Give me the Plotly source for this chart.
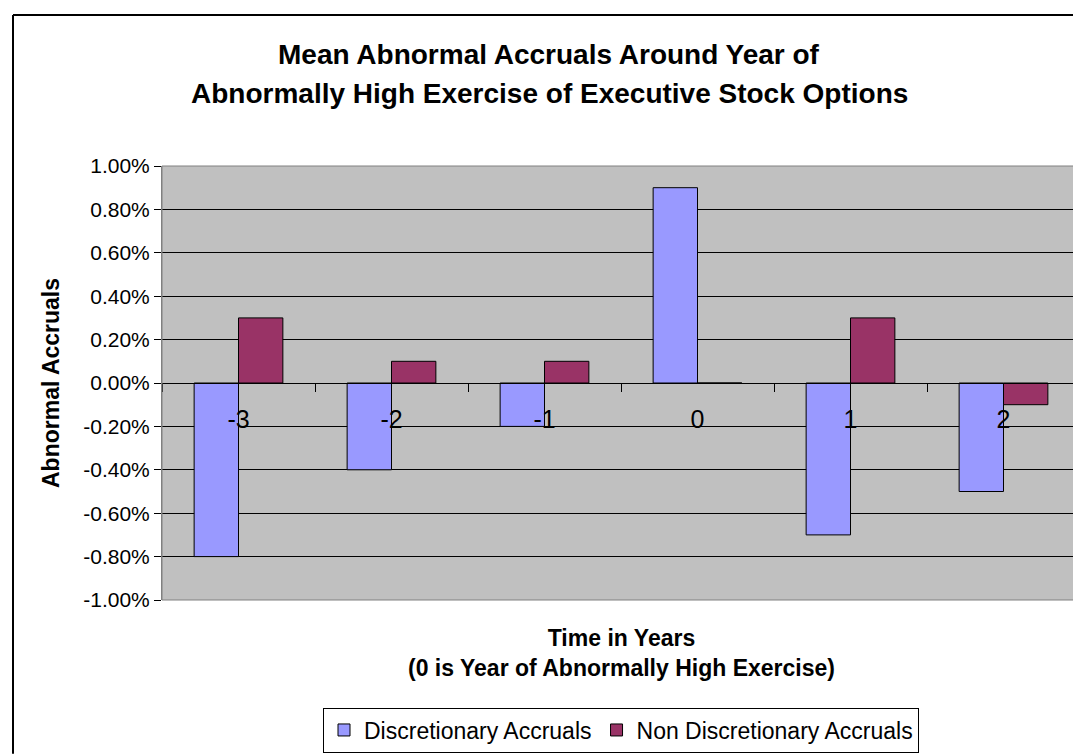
import plotly.graph_objects as go

years = ["-3", "-2", "-1", "0", "1", "2"]
discretionary = [-0.80, -0.40, -0.20, 0.90, -0.70, -0.50]
non_discretionary = [0.30, 0.10, 0.10, 0.00, 0.30, -0.10]
y_tick_vals = [-1.0, -0.8, -0.6, -0.4, -0.2, 0.0, 0.2, 0.4, 0.6, 0.8, 1.0]
y_tick_text = ["-1.00%", "-0.80%", "-0.60%", "-0.40%", "-0.20%", "0.00%",
               "0.20%", "0.40%", "0.60%", "0.80%", "1.00%"]

W, H = 1081, 754
L, R, T, B = 154, 9, 158, 156
PW, PH = W - L - R, H - T - B
FONT = "Liberation Sans, Arial, sans-serif"


def px(x):
    return (x - L) / PW


def py(y):
    return (H - B - y) / PH


fig = go.Figure()
fig.add_trace(go.Bar(x=years, y=discretionary, name="Discretionary Accruals",
                     marker=dict(color="#9999FF", line=dict(color="black", width=1))))
fig.add_trace(go.Bar(x=years, y=non_discretionary, name="Non Discretionary Accruals",
                     marker=dict(color="#993366", line=dict(color="black", width=1))))

fig.update_layout(
    width=W, height=H,
    margin=dict(l=L, r=R, t=T, b=B, pad=0),
    paper_bgcolor="white", plot_bgcolor="#C0C0C0",
    font=dict(family=FONT, color="black"),
    barmode="group", bargap=0.42, bargroupgap=0,
    showlegend=True,
    legend=dict(orientation="h", x=px(613), xanchor="center", y=py(707), yanchor="top",
                bordercolor="black", borderwidth=1, bgcolor="white",
                font=dict(size=23, family=FONT), itemwidth=30, tracegroupgap=0),
    xaxis=dict(type="category", anchor="free", position=0.5, showline=True,
               linecolor="black", linewidth=1, ticks="outside", ticklen=8,
               tickcolor="black", tickson="boundaries", showgrid=False,
               tickfont=dict(size=25, family=FONT), ticklabelstandoff=14,
               zeroline=False),
    yaxis=dict(range=[-1, 1], tickvals=y_tick_vals, ticktext=y_tick_text,
               showgrid=True, gridcolor="black", gridwidth=1, zeroline=False,
               ticks="outside", ticklen=7, tickcolor="black",
               tickfont=dict(size=21, family=FONT), showline=True,
               linecolor="#808080", linewidth=1),
)

# plot area border
fig.add_shape(type="rect", xref="paper", yref="paper", x0=0, x1=1, y0=0, y1=1,
              line=dict(color="#808080", width=1), layer="above")
# outer chart border (only top and left edges fall inside the picture)
fig.add_shape(type="line", xref="paper", yref="paper", x0=px(5), x1=px(1081),
              y0=py(5), y1=py(5), line=dict(color="black", width=2))
fig.add_shape(type="line", xref="paper", yref="paper", x0=px(5), x1=px(5),
              y0=py(5), y1=py(754), line=dict(color="black", width=2))

# titles
fig.add_annotation(text="<b>Mean Abnormal Accruals Around Year of</b>", xref="paper", yref="paper",
                   x=px(541), y=py(45), xanchor="center", yanchor="middle", showarrow=False,
                   font=dict(size=28, family=FONT))
fig.add_annotation(text="<b>Abnormally High Exercise of Executive Stock Options</b>", xref="paper",
                   yref="paper", x=px(541), y=py(85), xanchor="center", yanchor="middle",
                   showarrow=False, font=dict(size=28, family=FONT))
fig.add_annotation(text="<b>Time in Years</b><br><b>(0 is Year of Abnormally High Exercise)</b>",
                   xref="paper", yref="paper", x=px(613), y=py(652), xanchor="center",
                   yanchor="middle", showarrow=False, font=dict(size=23, family=FONT))
fig.add_annotation(text="<b>Abnormal Accruals</b>", xref="paper", yref="paper",
                   x=px(43), y=py(378), xanchor="center", yanchor="middle", textangle=-90,
                   showarrow=False, font=dict(size=23, family=FONT))

fig.write_html("out.html")
